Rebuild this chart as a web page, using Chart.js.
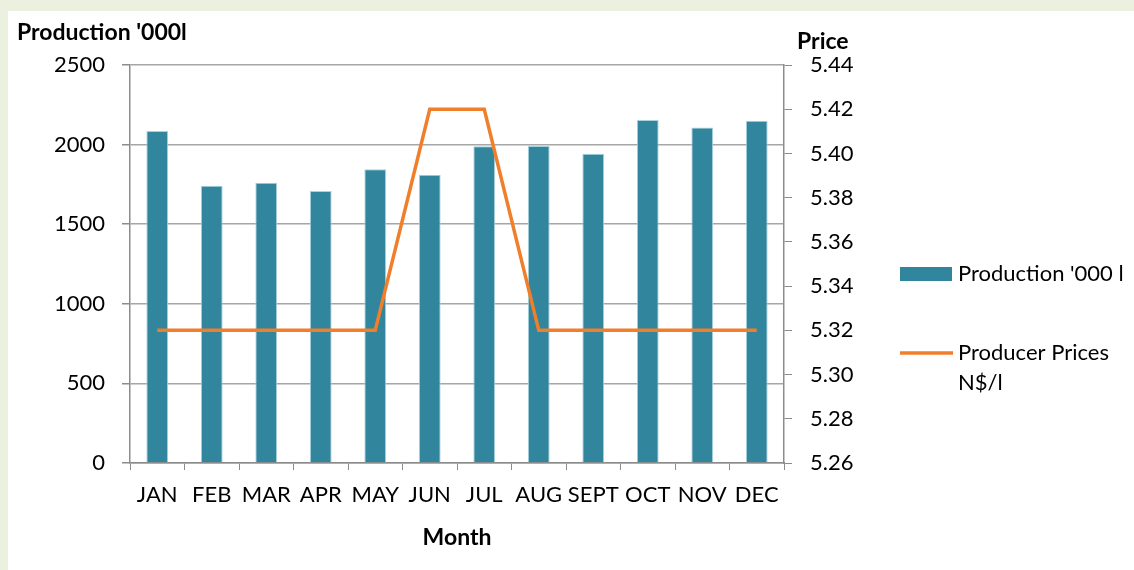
<!DOCTYPE html>
<html>
<head>
<meta charset="utf-8">
<script src="https://cdn.jsdelivr.net/npm/chart.js@4"></script>
<style>
  html, body { margin: 0; padding: 0; }
  body { width: 1134px; height: 570px; background: #ebf1de; position: relative; overflow: hidden; }
  #box { position: absolute; left: 8px; top: 11px; width: 1126px; height: 559px; background: #fff; }
</style>
</head>
<body>
<div id="box"><canvas id="chart"></canvas></div>
<script>
const months = ['JAN', 'FEB', 'MAR', 'APR', 'MAY', 'JUN', 'JUL', 'AUG', 'SEPT', 'OCT', 'NOV', 'DEC'];
const production = [2085, 1742, 1760, 1708, 1845, 1811, 1989, 1991, 1943, 2154, 2108, 2150];
const prices = [5.32, 5.32, 5.32, 5.32, 5.32, 5.42, 5.42, 5.32, 5.32, 5.32, 5.32, 5.32];
const seriesNames = ["Production '000 l", 'Producer Prices N$/l'];
const axisTitles = ["Production '000l", 'Price', 'Month'];

const FONT = 'Lato, "Open Sans", sans-serif';
const grey = '#8c8c8c';

// legend and the two top axis titles, drawn after the chart
const extras = {
    id: 'extras',
    afterDraw(chart) {
        const ctx = chart.ctx;
        ctx.save();
        ctx.fillStyle = '#000';
        ctx.textBaseline = 'middle';
        ctx.font = 'bold 23px ' + FONT;
        ctx.textAlign = 'left';
        ctx.fillText(axisTitles[0], 9, 22);
        ctx.fillText(axisTitles[1], 789, 31);

        ctx.font = '22px ' + FONT;
        const ds = chart.data.datasets;
        const bar = ds.find(d => d.type === 'bar');
        const line = ds.find(d => d.type === 'line');
        // bar swatch
        ctx.fillStyle = bar.backgroundColor;
        ctx.fillRect(892, 256, 52, 14);
        ctx.fillStyle = '#000';
        ctx.fillText(bar.label, 950, 263);
        // line swatch
        ctx.strokeStyle = line.borderColor;
        ctx.lineWidth = 3.5;
        ctx.beginPath();
        ctx.moveTo(892, 342);
        ctx.lineTo(945, 342);
        ctx.stroke();
        const words = line.label.split(' ');
        let row = '', y = 342;
        for (const w of words) {
            const test = row ? row + ' ' + w : w;
            if (ctx.measureText(test).width > 165 && row) {
                ctx.fillText(row, 950, y);
                row = w;
                y += 30;
            } else {
                row = test;
            }
        }
        ctx.fillText(row, 950, y);
        ctx.restore();
    }
};

new Chart(document.getElementById('chart'), {
    data: {
        labels: months,
        datasets: [{
            type: 'bar',
            label: seriesNames[0],
            data: production,
            yAxisID: 'y',
            backgroundColor: '#31859c',
            borderColor: '#a8d2de',
            borderWidth: 1,
            borderSkipped: 'bottom',
            categoryPercentage: 1,
            barPercentage: 0.4,
            order: 1
        }, {
            type: 'line',
            label: seriesNames[1],
            data: prices,
            yAxisID: 'y1',
            borderColor: '#f07f2b',
            borderWidth: 3.5,
            pointRadius: 0,
            tension: 0,
            order: 0
        }]
    },
    options: {
        responsive: true,
        maintainAspectRatio: false,
        animation: false,
        layout: { padding: { top: 54, left: 0, right: 0, bottom: 0 } },
        plugins: { legend: { display: false }, tooltip: { enabled: false } },
        scales: {
            x: {
                offset: true,
                afterFit(s) { s.height = 107; },
                grid: { drawOnChartArea: false, drawTicks: true, tickLength: 7, color: grey, lineWidth: 1 },
                border: { color: grey, width: 1.5 },
                ticks: { color: '#000', font: { family: FONT, size: 22 }, padding: 12, maxRotation: 0, autoSkip: false },
                title: { display: true, text: axisTitles[2], color: '#000', font: { family: FONT, size: 23, weight: 'bold' }, padding: { top: 0, bottom: 19 } }
            },
            y: {
                position: 'left',
                min: 0, max: 2500,
                afterFit(s) { s.width = 122; },
                grid: { color: '#a6a6a6', lineWidth: 1.5, tickLength: 8, tickColor: grey },
                border: { color: grey, width: 1.5 },
                ticks: { stepSize: 500, color: '#000', font: { family: FONT, size: 22 }, padding: 17,
                    callback: v => String(v) }
            },
            y1: {
                position: 'right',
                min: 5.26, max: 5.44,
                afterFit(s) { s.width = 350; },
                grid: { drawOnChartArea: false, tickLength: 8, color: grey },
                border: { color: grey, width: 1.5 },
                ticks: { stepSize: 0.02, color: '#000', font: { family: FONT, size: 22 }, padding: 18,
                    callback: v => v.toFixed(2) }
            }
        }
    },
    plugins: [extras]
});
</script>
</body>
</html>
